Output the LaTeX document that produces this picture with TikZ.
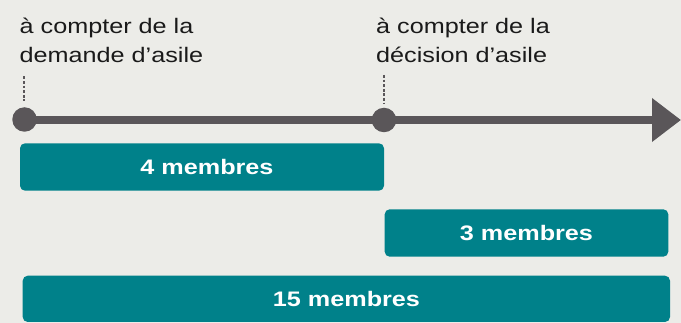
\documentclass[tikz,border=0pt]{standalone}
\usepackage{fontspec}
\setmainfont{Liberation Sans}[FakeStretch=1.2]
\usetikzlibrary{arrows.meta}
\definecolor{paper}{HTML}{ECECE8}
\definecolor{axisgray}{HTML}{5A5659}
\definecolor{teal}{HTML}{00818A}
\definecolor{ink}{HTML}{1A1A1A}
\tikzset{
  caption/.style={anchor=base west, align=left, inner sep=0pt, text=ink,
    font=\fontsize{21}{29}\selectfont},
  milestone/.style={circle, fill=axisgray, minimum size=24.5pt, inner sep=0pt},
  axis/.style={draw=axisgray, line width=8pt,
    -{Triangle[length=29pt, width=42pt, fill=axisgray]}},
  tick/.style={draw=axisgray, line width=2.8pt, dash pattern=on 2.8pt off 1.8pt},
  period/.style={fill=teal, rounded corners=5pt, inner sep=0pt},
  periodtext/.style={text=white, inner sep=0pt,
    font=\fontsize{21}{25}\selectfont\bfseries}
}
\begin{document}
\begin{tikzpicture}[x=1pt, y=-1pt]
  % canvas
  \fill[paper] (0,0) rectangle (681,323);
  \useasboundingbox (0,0) rectangle (681,323);

  % captions above the time axis (anchored on their last baseline)
  \node[caption] (cap1) at (19.5,62.3) {à compter de la\\demande d’asile};
  \node[caption] (cap2) at (376,62.3) {à compter de la\\décision d’asile};

  % time axis with its two starting points
  \coordinate (axisstart) at (24.5,120);
  \coordinate (axisend) at (681,120);
  \draw[axis] (axisstart) -- (axisend);
  \node[milestone] (m1) at (24.5,119.5) {};
  \node[milestone] (m2) at (384,120) {};

  % dotted ticks linking captions to the axis
  \coordinate (tick1top) at (24,76.5);
  \coordinate (tick1bot) at (24,101);
  \coordinate (tick2top) at (384,75);
  \coordinate (tick2bot) at (384,103.5);
  \draw[tick] (tick1top) -- (tick1bot);
  \draw[tick] (tick2top) -- (tick2bot);

  % periods
  \path[period] (20,143.3) rectangle (384,190.7);
  \node[periodtext] (p1) at (207,166.5) {4 membres};
  \path[period] (384.7,209.3) rectangle (668.3,256.7);
  \node[periodtext] (p2) at (526.5,233) {3 membres};
  \path[period] (22.7,275.7) rectangle (670,322);
  \node[periodtext] (p3) at (346.5,298.8) {15 membres};
\end{tikzpicture}
\end{document}
